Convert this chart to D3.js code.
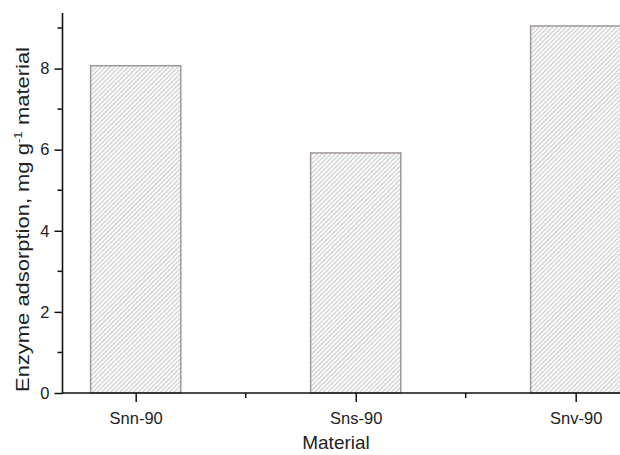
<!DOCTYPE html>
<html><head><meta charset="utf-8">
<script src="https://cdn.jsdelivr.net/npm/d3@7/dist/d3.min.js"></script>
<style>
body{margin:0;background:#fff;}
svg{display:block;}
text{font-family:"Liberation Sans",Arial,Helvetica,sans-serif;fill:#222;}
</style></head>
<body><svg id="c" width="620" height="455"></svg>
<script>
const categories = ["Snn-90", "Sns-90", "Snv-90"];
const values = [8.07, 5.92, 9.05];
const yMajorTicks = [0, 2, 4, 6, 8];
const yMinorTicks = [1, 3, 5, 7, 9];

const svg = d3.select("#c");
const axisX = 62.5, axisY = 393;

const y = d3.scaleLinear().domain([0, 9.37]).range([axisY, 13]);
const x = d3.scalePoint().domain(categories).range([135.7, 575.7]);
const step = x.step();
const barW = step * 0.41;

// hatch pattern
const defs = svg.append("defs");
const pat = defs.append("pattern").attr("id","hatch")
  .attr("patternUnits","userSpaceOnUse").attr("width",3.2).attr("height",3.2)
  .attr("patternTransform","rotate(45)");
pat.append("rect").attr("width",3.2).attr("height",3.2).attr("fill","#f5f5f5");
pat.append("line").attr("x1",0).attr("y1",0).attr("x2",0).attr("y2",3.2)
  .attr("stroke","#bcbcbc").attr("stroke-width",1.2);

// bars
svg.append("g").selectAll("rect").data(categories).join("rect")
  .attr("x", d => x(d) - barW/2)
  .attr("y", (d,i) => y(values[i]))
  .attr("width", barW)
  .attr("height", (d,i) => axisY - y(values[i]))
  .attr("fill","url(#hatch)")
  .attr("stroke","#a09896").attr("stroke-width",1.5);

// y axis
const gy = svg.append("g").attr("transform",`translate(${axisX},0)`);
gy.call(d3.axisLeft(y).tickValues(yMajorTicks).tickSize(8).tickPadding(5).tickFormat(d3.format("d")))
  .call(g => g.select(".domain").remove());
gy.selectAll(".tick line").attr("stroke","#111").attr("stroke-width",1.5);
gy.selectAll(".tick text").style("font-size","16.5px").attr("fill","#222")
  .style("font-family","'Liberation Sans',Arial,sans-serif");
gy.append("g").selectAll("line").data(yMinorTicks).join("line")
  .attr("x1",-5).attr("x2",0).attr("y1",d=>y(d)).attr("y2",d=>y(d))
  .attr("stroke","#111").attr("stroke-width",1.5);
gy.append("line").attr("x1",0).attr("x2",0).attr("y1",y.range()[1]).attr("y2",axisY+0.75)
  .attr("stroke","#111").attr("stroke-width",1.6);

// x axis
const gx = svg.append("g").attr("transform",`translate(0,${axisY})`);
gx.call(d3.axisBottom(x).tickSize(9).tickPadding(10))
  .call(g => g.select(".domain").remove());
gx.selectAll(".tick line").attr("stroke","#111").attr("stroke-width",1.5);
gx.selectAll(".tick text").style("font-size","16.5px").attr("fill","#222")
  .style("font-family","'Liberation Sans',Arial,sans-serif");
const mids = categories.slice(1).map((c,i) => (x(c) + x(categories[i]))/2);
gx.append("g").selectAll("line").data(mids).join("line")
  .attr("x1",d=>d).attr("x2",d=>d).attr("y1",0).attr("y2",5)
  .attr("stroke","#111").attr("stroke-width",1.5);
gx.append("line").attr("x1",axisX).attr("x2",620).attr("y1",0).attr("y2",0)
  .attr("stroke","#111").attr("stroke-width",1.6);

// titles
svg.append("text").attr("x", 336).attr("y", 449)
  .attr("text-anchor","middle").style("font-size","19px").text("Material");

const yt = svg.append("text")
  .attr("transform",`translate(28.5,${(46+393)/2}) rotate(-90)`)
  .attr("text-anchor","middle").style("font-size","18px")
  .attr("textLength", 345).attr("lengthAdjust","spacingAndGlyphs");
yt.append("tspan").text("Enzyme adsorption, mg g");
yt.append("tspan").attr("dy",-7).style("font-size","11px").text("-1");
yt.append("tspan").attr("dy",7).text(" material");
</script></body></html>
